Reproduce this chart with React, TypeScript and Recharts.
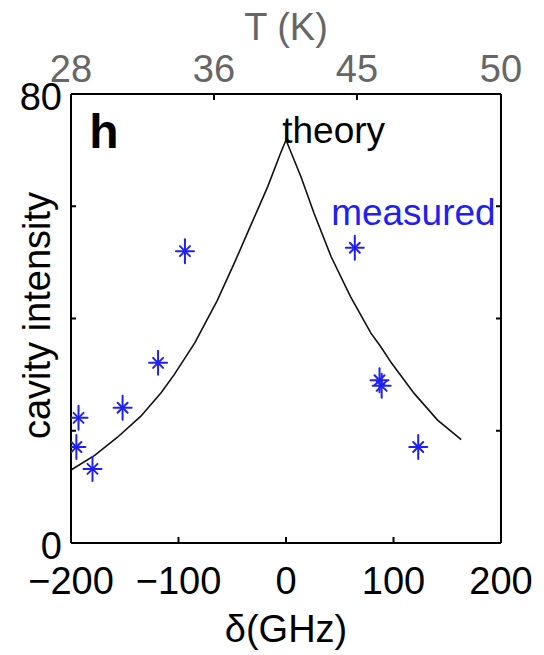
import React from "react";
import {
  ComposedChart,
  Line,
  Scatter,
  XAxis,
  YAxis,
  ReferenceDot,
  Label,
} from "recharts";

// theory curve (detuning in GHz, intensity)
export const theoryDelta = [-200, -178, -157, -135, -116, -104, -85, -64, -48, -33, -17, -5, 0, 14, 26, 42, 60, 79, 88, 98, 119, 141, 163];
export const theoryValue = [13, 15.6, 18.8, 22.6, 26.8, 30, 35.6, 43.2, 49.9, 56.5, 63.5, 69.5, 71.8, 65.2, 58.8, 51, 43.9, 37.4, 35, 32.1, 26.7, 21.9, 18.4];

// measured points
export const measuredDelta = [-193, -195, -180, -152, -119, -94, 64, 87, 89, 123];
export const measuredValue = [22.3, 17.1, 13.2, 24.1, 32.1, 52, 52.6, 29, 28, 17.1];

// axes
export const deltaTicks = [-200, -100, 0, 100, 200];
export const intensityTicks = [0, 20, 40, 60, 80];
export const intensityLabels = [0, 80];
export const tempTickDelta = [-200, -67, 66, 200];
export const tempTickLabel = ["28", "36", "45", "50"];

const theory = theoryDelta.map((d, i) => ({ d, v: theoryValue[i] }));
const measured = measuredDelta.map((d, i) => ({ d, v: measuredValue[i] }));

const FONT = "'Liberation Sans', Arial, Helvetica, sans-serif";
const BLUE = "#2020f0";

const Asterisk = (props: any) => {
  const { cx, cy } = props;
  if (cx == null || cy == null) return null;
  return (
    <g stroke={BLUE} strokeWidth={2} strokeLinecap="round">
      <line x1={cx} y1={cy - 12} x2={cx} y2={cy + 12} />
      <line x1={cx - 9} y1={cy} x2={cx + 9} y2={cy} />
      <line x1={cx - 5} y1={cy - 5} x2={cx + 5} y2={cy + 5} />
      <line x1={cx - 5} y1={cy + 5} x2={cx + 5} y2={cy - 5} />
    </g>
  );
};

const note = (text: string, size: number, color: string, bold = false) => (p: any) =>
  (
    <text x={p.cx} y={p.cy} fontSize={size} fill={color} fontFamily={FONT} fontWeight={bold ? "bold" : "normal"}>
      {text}
    </text>
  );

const fmtDelta = (v: number) => (v < 0 ? "\u2212" + Math.abs(v) : String(v));

export default function App() {
  return (
    <div style={{ position: "absolute", left: 0, top: 0, background: "#fff" }}>
      <ComposedChart width={544} height={655} margin={{ top: 0, right: 0, bottom: 0, left: 0 }}>
        <XAxis
          xAxisId={0}
          dataKey="d"
          type="number"
          domain={[-200, 200]}
          ticks={deltaTicks}
          tickFormatter={fmtDelta}
          height={112}
          stroke="#000"
          strokeWidth={2}
          tickSize={-6}
          tickMargin={30}
          tick={{ fill: "#000", fontSize: 38, fontFamily: FONT }}
          allowDataOverflow
        >
          <Label value="δ(GHz)" position="insideBottom" offset={13} fill="#000" fontSize={38} fontFamily={FONT} />
        </XAxis>
        <XAxis
          xAxisId="top"
          orientation="top"
          dataKey="d"
          type="number"
          domain={[-200, 200]}
          ticks={tempTickDelta}
          tickFormatter={(v: number) => tempTickLabel[tempTickDelta.indexOf(v)] ?? ""}
          height={94}
          stroke="#000"
          strokeWidth={2}
          tickSize={-6}
          tickMargin={18}
          tick={{ fill: "#666", fontSize: 38, fontFamily: FONT }}
          allowDataOverflow
        >
          <Label value="T (K)" position="insideTop" offset={13} fill="#666" fontSize={38} fontFamily={FONT} />
        </XAxis>
        <YAxis
          yAxisId={0}
          dataKey="v"
          type="number"
          domain={[0, 80]}
          ticks={intensityTicks}
          tickFormatter={(v: number) => (intensityLabels.includes(v) ? String(v) : "")}
          width={71}
          stroke="#000"
          strokeWidth={2}
          tickSize={-5}
          tickMargin={14}
          tick={{ fill: "#000", fontSize: 38, fontFamily: FONT, dy: 3 }}
          allowDataOverflow
        >
          <Label
            content={(p: any) => {
              const vb = p.viewBox || {};
              const cy = (vb.y ?? 94) + (vb.height ?? 449) / 2 - 3;
              return (
                <text
                  x={50}
                  y={cy}
                  transform={`rotate(-90, 50, ${cy})`}
                  textAnchor="middle"
                  fontSize={38}
                  fontFamily={FONT}
                  fill="#000"
                >
                  cavity intensity
                </text>
              );
            }}
          />
        </YAxis>
        <YAxis
          yAxisId="right"
          orientation="right"
          type="number"
          domain={[0, 80]}
          ticks={intensityTicks}
          tickFormatter={() => ""}
          width={43}
          stroke="#000"
          strokeWidth={2}
          tickSize={-5}
          allowDataOverflow
        />
        <Line
          data={theory}
          dataKey="v"
          type="linear"
          stroke="#111"
          strokeWidth={1.6}
          dot={false}
          activeDot={false}
          isAnimationActive={false}
        />
        <Scatter data={measured} dataKey="v" shape={Asterisk} isAnimationActive={false} />
        <ReferenceDot x={-183} y={70.4} r={0} shape={note("h", 48, "#000", true)} />
        <ReferenceDot x={-3.5} y={71.3} r={0} shape={note("theory", 37, "#000")} />
        <ReferenceDot x={42} y={56.7} r={0} shape={note("measured", 37, BLUE)} />
      </ComposedChart>
    </div>
  );
}
